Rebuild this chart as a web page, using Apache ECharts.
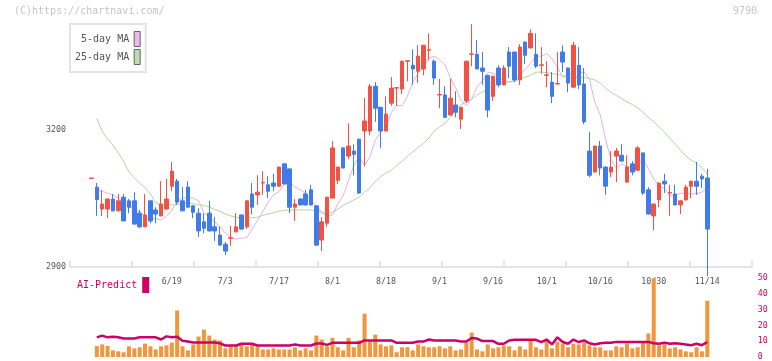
<!DOCTYPE html>
<html><head><meta charset="utf-8">
<script src="https://cdn.jsdelivr.net/npm/echarts@6/dist/echarts.min.js"></script>
<style>html,body{margin:0;padding:0;background:#fff}#c{width:772px;height:361px}</style>
</head><body><div id="c"></div>
<script>
const opens  = [3094,3075,3027,3027,3049,3023,3053,3045,3045,3018,2988,3045,3025,3012,3027,3077,3088,3045,3075,3034,3018,2999,3018,2988,2970,2950,2963,2977,3014,2988,3060,3058,3084,3080,3084,3077,3126,3115,3031,3049,3060,3069,3034,2959,2996,3051,3090,3161,3143,3154,3180,3198,3198,3296,3250,3198,3259,3292,3290,3351,3342,3329,3334,3375,3351,3277,3277,3233,3255,3224,3264,3366,3366,3336,3320,3274,3336,3299,3371,3371,3310,3393,3380,3366,3342,3320,3305,3301,3371,3336,3294,3342,3301,3154,3108,3165,3119,3108,3143,3145,3086,3126,3112,3150,3069,3012,3047,3088,3062,3060,3036,3047,3077,3088,3099,3095];
const closes = [3095,3048,3038,3049,3023,3045,3001,3031,2994,2988,3014,3001,3016,3038,3049,3110,3042,3023,3031,3020,2979,2985,2979,2979,2948,2935,2964,2988,2983,3045,3031,3064,3085,3066,3077,3119,3082,3031,3038,3036,3036,3036,2948,2999,3053,3161,3119,3117,3165,3147,3062,3220,3296,3248,3198,3235,3292,3293,3351,3352,3334,3362,3386,3376,3314,3278,3228,3270,3239,3250,3351,3367,3334,3329,3244,3318,3299,3336,3340,3310,3382,3364,3412,3340,3343,3321,3274,3302,3349,3303,3386,3299,3218,3101,3165,3117,3077,3119,3154,3132,3119,3108,3161,3062,3016,3038,3084,3082,3063,3036,3045,3075,3088,3077,3093,2983];
const lows   = [3094,3012,3012,3007,3022,3022,3000,3018,2993,2985,2987,2996,2996,3011,3026,3066,3036,3022,3030,3007,2966,2974,2978,2957,2947,2926,2946,2976,2982,2983,3016,3036,3058,3051,3066,3076,3081,3018,3001,3035,3035,3035,2946,2935,2988,3050,3082,3116,3137,3101,3060,3121,3189,3218,3161,3197,3253,3253,3279,3307,3299,3303,3320,3353,3299,3248,3227,3232,3228,3202,3259,3340,3333,3299,3228,3264,3294,3298,3314,3305,3299,3345,3379,3336,3323,3294,3259,3300,3327,3283,3293,3290,3213,3097,3107,3101,3058,3097,3086,3131,3085,3101,3111,3058,3015,2981,3031,3062,3012,3035,3016,3046,3051,3058,3073,2880];
const highs  = [3095,3084,3069,3050,3060,3060,3060,3049,3064,3025,3060,3046,3031,3088,3093,3130,3093,3075,3088,3035,3029,3018,3045,3009,2988,2955,2990,3018,3015,3046,3084,3101,3110,3099,3104,3120,3127,3116,3049,3050,3069,3080,3035,3009,3054,3176,3120,3162,3215,3169,3181,3270,3301,3305,3251,3274,3316,3294,3352,3353,3377,3386,3387,3412,3355,3312,3296,3312,3285,3251,3352,3432,3397,3371,3321,3319,3342,3342,3382,3372,3388,3394,3421,3412,3382,3351,3327,3371,3386,3337,3393,3382,3336,3196,3166,3176,3120,3154,3161,3169,3145,3132,3165,3151,3075,3039,3085,3104,3080,3080,3046,3080,3089,3130,3104,3115];
const ma5    = [null,3068,3066,3062,3058,3051,3041,3031,3030,3019,3012,3006,3006,3003,3011,3024,3043,3051,3052,3051,3045,3019,3008,2999,2988,2974,2965,2961,2963,2964,2983,3002,3022,3042,3058,3065,3082,3086,3075,3069,3061,3045,3035,3019,3011,3014,3039,3056,3090,3123,3142,3122,3142,3178,3195,3205,3239,3254,3253,3274,3305,3324,3338,3357,3362,3354,3343,3316,3293,3266,3253,3268,3295,3308,3326,3325,3318,3305,3305,3307,3321,3333,3346,3362,3362,3368,3356,3338,3316,3318,3310,3323,3328,3311,3261,3234,3180,3136,3116,3126,3120,3120,3126,3135,3116,3093,3077,3072,3056,3057,3061,3062,3060,3061,3064,3076];
const ma25   = [null,3225,3198,3180,3167,3150,3132,3108,3095,3084,3073,3060,3040,3037,3036,3036,3037,3038,3040,3039,3036,3035,3031,3026,3022,3016,3012,3009,3008,3007,3008,3009,3013,3016,3019,3022,3024,3025,3025,3025,3025,3025,3023,3020,3017,3020,3027,3035,3041,3047,3053,3064,3073,3088,3098,3106,3112,3123,3131,3143,3152,3162,3171,3182,3198,3207,3215,3228,3244,3256,3261,3267,3277,3283,3290,3296,3302,3305,3306,3308,3312,3316,3320,3327,3327,3326,3324,3322,3319,3317,3316,3316,3315,3313,3310,3303,3292,3283,3276,3269,3262,3256,3249,3239,3228,3219,3207,3196,3182,3170,3156,3143,3134,3128,3117,3104];
const volume = [null,7.0,8.0,7.0,4.2,3.6,3.0,6.8,5.5,6.2,8.5,6.8,4.8,6.8,7.4,9.2,29.6,6.8,4.2,8.0,13.0,17.4,13.6,11.1,10.5,5.5,6.8,7.4,8.0,6.8,8.0,6.8,4.8,4.8,5.5,4.8,4.8,4.8,6.2,4.2,5.5,4.2,13.6,11.1,6.8,12.2,6.2,4.2,12.2,6.2,10.5,27.5,10.5,14.2,8.0,6.8,7.4,3.0,6.2,6.2,4.2,8.0,6.8,6.2,6.2,6.8,5.5,6.8,4.2,4.8,9.2,15.5,4.8,3.6,8.0,5.5,6.2,7.4,6.8,4.2,6.8,4.8,10.5,6.2,4.8,10.5,5.5,9.8,8.5,6.2,8.5,8.0,9.2,7.4,6.2,6.2,4.2,4.2,6.8,6.2,8.5,5.5,6.2,9.8,14.9,50,7.4,8.0,5.5,6.2,4.8,3.6,3.0,6.2,3.6,35.7];
const aiPredict = [null,12.5,13.6,12.5,12.9,12.5,11.7,11.7,11.7,12.5,12.5,12.5,12.5,11.1,13.1,12.5,12.9,10.3,9.8,9.2,9.2,9.2,9.2,9.2,8.7,7.3,7.3,7.3,8.4,8.4,8.4,7.3,7.3,7.3,7.3,7.3,7.3,7.3,8.0,7.3,7.3,7.3,8.6,8.6,7.7,9.0,9.0,9.0,9.0,9.0,9.0,10.5,10.5,10.5,10.5,10.5,10.5,9.0,9.0,9.0,9.0,9.8,9.8,11.1,10.5,10.5,10.5,10.5,10.5,9.8,9.8,12.1,11.7,10.1,10.1,10.1,8.4,8.4,10.5,10.9,10.9,10.9,10.9,10.9,9.5,11.1,8.0,12.5,9.5,8.4,11.1,9.5,10.5,8.7,8.0,8.7,9.0,9.0,9.6,9.6,9.6,9.6,9.6,9.6,9.6,8.7,8.4,9.0,8.4,8.7,8.4,8.0,7.5,8.4,7.5,9.5];
const tickDates = ['6/19','7/3','7/17','8/1','8/18','9/1','9/16','10/1','10/16','10/30','11/14'];
const tickIndex = [15,25,35,45,55,65,75,85,95,105,115];
const emptySlots = 8;

const MONO = "'DejaVu Sans Mono', monospace";
const total = closes.length + emptySlots;
const cats = Array.from({length: total}, (_, i) => String(i));
const candle = opens.map((o, i) => [o, closes[i], lows[i], highs[i]]);

const chart = echarts.init(document.getElementById('c'), null, {renderer: 'canvas'});
chart.setOption({
  animation: false,
  backgroundColor: '#fff',
  title: [
    {text: '(C)https://chartnavi.com/', left: 14, top: 6, padding: 0,
     textStyle: {color: '#c4c4c4', fontSize: 10, fontWeight: 'normal', fontFamily: MONO}},
    {text: '9790', right: 15, top: 6, padding: 0,
     textStyle: {color: '#c4c4c4', fontSize: 10, fontWeight: 'normal', fontFamily: MONO}}
  ],
  legend: [
    {data: ['5-day MA', '25-day MA'], left: 70, top: 24, orient: 'vertical', align: 'right',
     itemWidth: 6, itemHeight: 15, itemGap: 2, padding: [7, 5, 7, 5], icon: 'rect',
     borderColor: '#e2e2e2', borderWidth: 2, selectedMode: false,
     itemStyle: {borderColor: '#666', borderWidth: 1},
     formatter: name => name.padStart(9, ' '),
     textStyle: {fontFamily: MONO, fontSize: 10, color: '#555'}},
    {data: ['AI-Predict'], left: 77, top: 277, orient: 'horizontal', align: 'right',
     itemWidth: 7, itemHeight: 16, padding: 0, icon: 'rect', selectedMode: false,
     itemStyle: {borderWidth: 0},
     textStyle: {fontFamily: MONO, fontSize: 10, color: '#cc0066'}}
  ],
  grid: [
    {left: 70, top: 16, width: 682, height: 251},
    {left: 88.8, top: 16, width: 664, height: 251},
    {left: 88.8, top: 278.3, width: 664, height: 79.2}
  ],
  xAxis: [
    {gridIndex: 0, type: 'value', min: 0, max: 11, interval: 1,
     axisLine: {show: true, lineStyle: {color: '#e4e4e4', width: 2}},
     axisTick: {show: true, inside: true, length: 6, lineStyle: {color: '#e4e4e4', width: 2}},
     axisLabel: {show: false}, splitLine: {show: false}},
    {gridIndex: 1, type: 'category', data: cats, boundaryGap: true,
     axisLine: {show: false}, axisTick: {show: false}, splitLine: {show: false},
     axisLabel: {interval: i => tickIndex.includes(i), margin: 11, fontSize: 8.3,
                 fontFamily: MONO, color: '#555',
                 formatter: (v, i) => tickDates[tickIndex.indexOf(i)] || ''}},
    {gridIndex: 2, type: 'category', data: cats, boundaryGap: true, show: false}
  ],
  yAxis: [
    {gridIndex: 0, type: 'value', min: 2900, max: 3450, interval: 300,
     axisLine: {show: false}, axisTick: {show: false}, splitLine: {show: false},
     axisLabel: {margin: 4, fontSize: 8.3, fontFamily: MONO, color: '#555',
                 showMaxLabel: false, formatter: v => String(v)}},
    {gridIndex: 1, type: 'value', min: 2900, max: 3450, show: false, splitLine: {show: false}},
    {gridIndex: 2, type: 'value', min: 0, max: 50, interval: 10, position: 'right',
     axisLine: {show: false}, axisTick: {show: false}, splitLine: {show: false},
     axisLabel: {margin: 5, fontSize: 8.3, fontFamily: MONO, color: '#cc0066'}}
  ],
  series: [
    {name: '5-day MA', type: 'line', xAxisIndex: 1, yAxisIndex: 1, data: ma5,
     symbol: 'none', color: '#ebbaeb', lineStyle: {color: '#e6b0e6', width: 1}, z: 1},
    {name: '25-day MA', type: 'line', xAxisIndex: 1, yAxisIndex: 1, data: ma25,
     symbol: 'none', color: '#bcdcb0', lineStyle: {color: '#b0d8a0', width: 1}, z: 1},
    {name: 'Price', type: 'candlestick', xAxisIndex: 1, yAxisIndex: 1, data: candle,
     barWidth: 4, clip: true, z: 3,
     itemStyle: {color: '#f25244', color0: '#3f7ce9', borderColor: '#f25244',
                 borderColor0: '#3f7ce9', borderWidth: 1}},
    {name: 'Volume', type: 'bar', xAxisIndex: 2, yAxisIndex: 2, data: volume,
     barWidth: 4, itemStyle: {color: '#f0963c'}, z: 2},
    {name: 'AI-Predict', type: 'line', xAxisIndex: 2, yAxisIndex: 2, data: aiPredict,
     symbol: 'none', color: '#cc0066', lineStyle: {color: '#cc0066', width: 2.5}, z: 4}
  ]
});
</script></body></html>
